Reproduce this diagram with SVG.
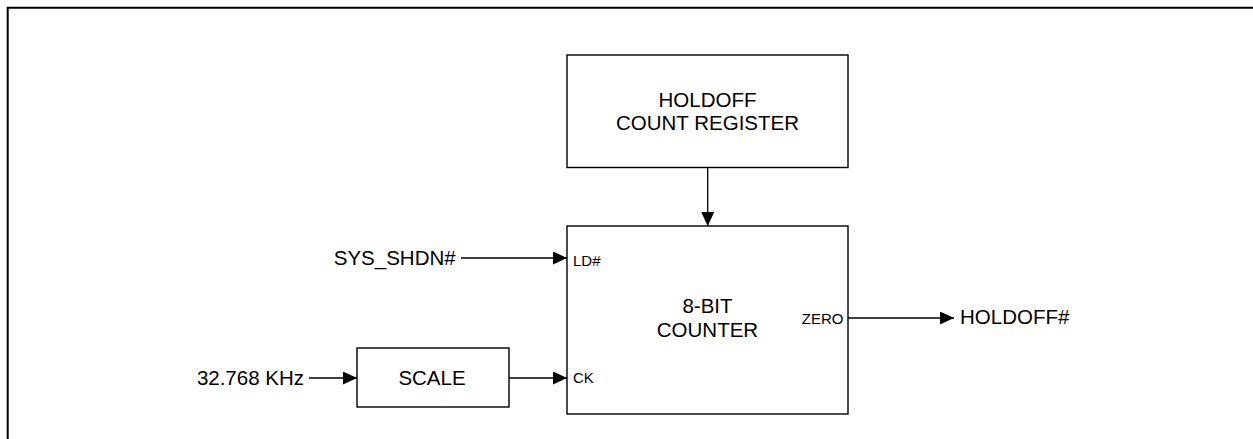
<svg xmlns="http://www.w3.org/2000/svg" width="1253" height="439" viewBox="0 0 1253 439">
<style>
.box{fill:#fff;stroke:#000;stroke-width:1.4}
.wire{fill:none;stroke:#000;stroke-width:1.3}
.big{font-family:"Liberation Sans",Arial,sans-serif;font-size:20.5px;fill:#000}
.pin{font-family:"Liberation Sans",Arial,sans-serif;font-size:15px;fill:#000}
.c{text-anchor:middle}
.e{text-anchor:end}
</style>
<defs>
<marker id="arr" markerUnits="userSpaceOnUse" markerWidth="14" markerHeight="13" refX="14" refY="6.5" orient="auto">
<path d="M0,0 L14,6.5 L0,13 Z" fill="#000"/>
</marker>
</defs>
<rect width="1253" height="439" fill="#fff"/>
<path d="M7.7,439 V7.7 H1253" fill="none" stroke="#000" stroke-width="2"/>
<g id="register">
<rect class="box" x="567" y="55" width="281" height="112.5"/>
<text class="big c" x="707.5" y="106.7">HOLDOFF</text>
<text class="big c" x="707.5" y="130">COUNT REGISTER</text>
</g>
<g id="counter">
<rect class="box" x="567" y="226" width="281" height="188"/>
<text class="big c" x="707.5" y="313.3">8-BIT</text>
<text class="big c" x="707.5" y="337.3">COUNTER</text>
<text class="pin" x="573" y="266">LD#</text>
<text class="pin" x="573" y="383">CK</text>
<text class="pin e" x="843.5" y="324">ZERO</text>
</g>
<g id="scale">
<rect class="box" x="357" y="348" width="152" height="59"/>
<text class="big c" x="432" y="385">SCALE</text>
</g>
<g id="sys_shdn">
<text class="big e" x="455.7" y="265">SYS_SHDN#</text>
</g>
<g id="clk">
<text class="big e" x="304" y="385">32.768 KHz</text>
</g>
<g id="holdoff_out">
<text class="big" x="960" y="324">HOLDOFF#</text>
</g>
<g id="connectors">
<path class="wire" d="M707.7,167.5 V226" marker-end="url(#arr)"/>
<path class="wire" d="M461,258 H567" marker-end="url(#arr)"/>
<path class="wire" d="M309,378 H357" marker-end="url(#arr)"/>
<path class="wire" d="M509,378 H567" marker-end="url(#arr)"/>
<path class="wire" d="M848,318 H954" marker-end="url(#arr)"/>
</g>
</svg>
